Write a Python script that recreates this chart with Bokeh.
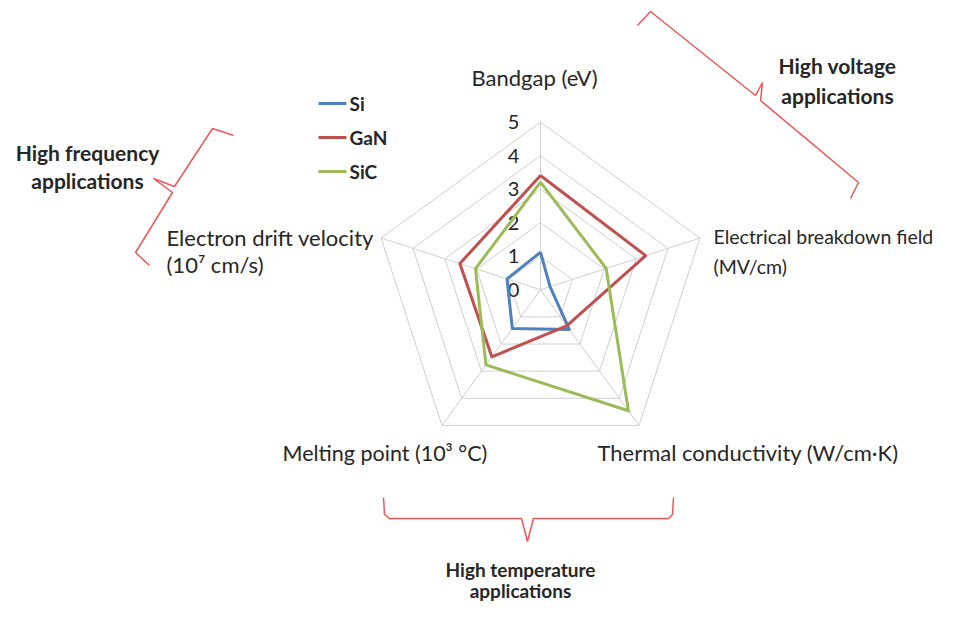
import math
from bokeh.plotting import figure
from bokeh.models import Range1d
from bokeh.embed import file_html
from bokeh.resources import INLINE
from bokeh.core.properties import value

# ---------------- data ----------------
axes_labels = [
    ["Bandgap (eV)"],
    ["Electrical breakdown field", "(MV/cm)"],
    ["Thermal conductivity (W/cm\u00b7K)"],
    ["Melting point (10\u00b3 \u00b0C)"],
    ["Electron drift velocity", "(10\u2077 cm/s)"],
]
series_names = ["Si", "GaN", "SiC"]
si_values = [1.12, 0.3, 1.46, 1.43, 1.05]
gan_values = [3.41, 3.3, 1.33, 2.47, 2.53]
sic_values = [3.21, 2.06, 4.46, 2.77, 2.04]
tick_labels = ["0", "1", "2", "3", "4", "5"]
ticks = [0, 1, 2, 3, 4, 5]

# ---------------- layout / style ----------------
W, H = 950, 604
CX, CY = 540.0, 289.3
RMAX = 5.0
RPX = 167.6
colors = ["#4f81bd", "#c0504d", "#9bbb59"]
grid_color = "#cfcfcf"
text_color = "#262626"
FONT = "Lato"
brace_color = "#ee5555"

p = figure(width=W, height=H, output_backend="svg", toolbar_location=None,
           x_range=Range1d(0, W), y_range=Range1d(H, 0),
           x_axis_location=None, y_axis_location=None, min_border=0,
           outline_line_color=None, background_fill_color="white",
           border_fill_color="white")
p.grid.visible = False

n = len(axes_labels)
angles = [math.radians(90 - 72 * i) for i in range(n)]


def pt(i, v):
    r = v / RMAX * RPX
    return CX + r * math.cos(angles[i]), CY - r * math.sin(angles[i])


# grid pentagons
for lvl in ticks[1:]:
    xs = [pt(i, lvl)[0] for i in range(n)] + [pt(0, lvl)[0]]
    ys = [pt(i, lvl)[1] for i in range(n)] + [pt(0, lvl)[1]]
    p.line(xs, ys, line_color=grid_color, line_width=1)
# spokes
for i in range(n):
    x1, y1 = pt(i, RMAX)
    p.line([CX, x1], [CY, y1], line_color=grid_color, line_width=1)

# tick labels
p.text(x=[CX - 27] * len(ticks), y=[pt(0, t)[1] for t in ticks], text=tick_labels,
       text_font=value(FONT), text_font_size="20px", text_color=text_color,
       text_align="center", text_baseline="middle")

# series
for vals, c in zip([si_values, gan_values, sic_values], colors):
    xs = [pt(i, v)[0] for i, v in enumerate(vals)]
    ys = [pt(i, v)[1] for i, v in enumerate(vals)]
    p.line(xs + xs[:1], ys + ys[:1], line_color=c, line_width=3, line_join="round")

# axis labels (anchor, align, size)
label_pos = [
    (534, [77], "center", "22px"),
    (713, [236, 266], "left", "19.5px"),
    (597, [452], "left", "22px"),
    (282, [452], "left", "21.5px"),
    (166, [237, 264], "left", "22px"),
]
for lines, (lx, lys, al, fs) in zip(axes_labels, label_pos):
    p.text(x=[lx] * len(lines), y=lys, text=lines, text_font=value(FONT),
           text_font_size=fs, text_color=text_color, text_align=al,
           text_baseline="middle")

# legend
leg_y = [103, 137, 171]
for name, c, ly in zip(series_names, colors, leg_y):
    p.line([318, 346], [ly, ly], line_color=c, line_width=3)
    p.text(x=[349], y=[ly], text=[name], text_font=value(FONT), text_font_size="19px",
           text_font_style="bold", text_color=text_color, text_baseline="middle")

# annotation texts
notes = [
    (87, [152, 180], ["High frequency", "applications"], "21px"),
    (837, [65, 95], ["High voltage", "applications"], "21px"),
    (520, [569, 590], ["High temperature", "applications"], "19px"),
]
for nx, nys, lines, fs in notes:
    p.text(x=[nx] * len(lines), y=nys, text=lines, text_font=value(FONT),
           text_font_size=fs, text_font_style="bold", text_color=text_color,
           text_align="center", text_baseline="middle")

# braces
braces = [
    ([233, 212, 174, 153, 172, 135, 149], [135, 128, 186, 178, 192, 252, 265]),
    ([637, 650, 755, 762, 760, 858, 850], [25, 11, 95, 82, 100, 182, 198]),
    ([383, 384, 389, 521, 527, 533, 668, 672, 673], [497, 514, 518, 518, 541, 518, 518, 514, 497]),
]
for bx, by in braces:
    p.line(bx, by, line_color=brace_color, line_width=1.5)

open("out.html", "w").write(file_html(p, INLINE))
